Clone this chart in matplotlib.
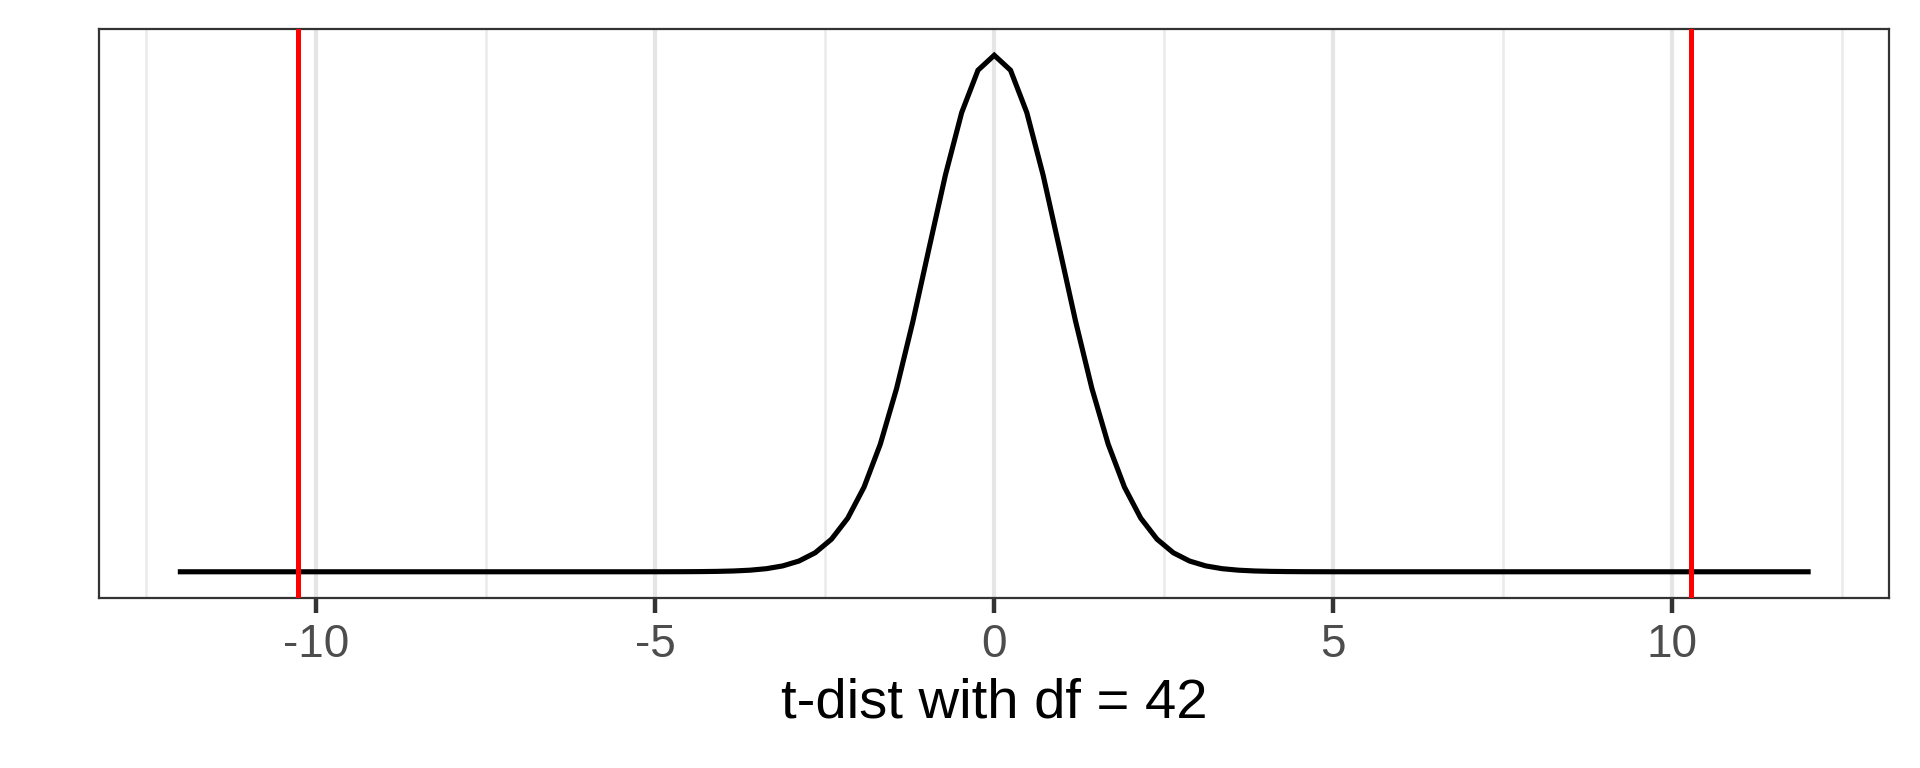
#!/usr/bin/env python3
"""
t-distribution density (df = 42) with critical lines, ggplot-like look.
"""

import numpy as np
import matplotlib
matplotlib.use("Agg")
import matplotlib.pyplot as plt

# Density values, on an even grid from -12 to 12 (101 points)
density = [
    0, 0, 0, 0, 0, 0, 0, 0, 0, 0,
    0, 0, 0, 0, 0, 0, 0, 0, 0, 0,
    0, 0, 0, 0, 0, 0, 0, 0, 0, 0.000015,
    0.000033, 0.00007, 0.000146, 0.000303, 0.000615, 0.00122, 0.00237, 0.00449, 0.00823, 0.01461,
    0.02502, 0.04118, 0.06498, 0.09796, 0.14072, 0.19211, 0.24868, 0.30463, 0.35257, 0.38505,
    0.39657,
    0.38505, 0.35257, 0.30463, 0.24868, 0.19211, 0.14072, 0.09796, 0.06498, 0.04118, 0.02502,
    0.01461, 0.00823, 0.00449, 0.00237, 0.00122, 0.000615, 0.000303, 0.000146, 0.00007, 0.000033,
    0.000015, 0, 0, 0, 0, 0, 0, 0, 0, 0,
    0, 0, 0, 0, 0, 0, 0, 0, 0, 0,
    0, 0, 0, 0, 0, 0, 0, 0, 0, 0,
]
x_min, x_max = -12, 12
critical = [-10.27, 10.27]
df_label = "t-dist with df = 42"

major_ticks = [-10, -5, 0, 5, 10]
minor_ticks = [-12.5, -7.5, -2.5, 2.5, 7.5, 12.5]

plt.rcParams['font.family'] = ['Liberation Sans', 'DejaVu Sans']

W, H = 1920, 768
fig = plt.figure(figsize=(W / 100, H / 100), dpi=100)
left, right, top, bottom = 99, 1889.5, 29.4, 597.6
ax = fig.add_axes([left / W, 1 - bottom / H, (right - left) / W, (bottom - top) / H])

x = np.linspace(x_min, x_max, len(density))

# ggplot-style 5% expansion
span = x_max - x_min
ax.set_xlim(x_min - 0.05 * span, x_max + 0.05 * span)
ymax = max(density)
ax.set_ylim(-0.05 * ymax, ymax * 1.05)

# Grid
for v in minor_ticks:
    ax.axvline(v, color='#EBEBEB', lw=1.8, zorder=0)
for v in major_ticks:
    ax.axvline(v, color='#E5E5E5', lw=3.0, zorder=0)

ax.plot(x, density, color='black', lw=3.7, zorder=3, solid_joinstyle='miter')
for c in critical:
    ax.axvline(c, color='#FF0000', lw=3.6, zorder=4)

ax.set_xticks(major_ticks)
ax.set_xticklabels([str(t) for t in major_ticks])
ax.set_yticks([])
ax.tick_params(axis='x', length=11, width=3.2, color='#333333', pad=7,
               labelsize=33, labelcolor='#4D4D4D')

for s in ax.spines.values():
    s.set_color('#333333')
    s.set_linewidth(1.6)

ax.set_xlabel(df_label, fontsize=40.5, color='black', labelpad=8)

fig.savefig("out.png", dpi=100)
